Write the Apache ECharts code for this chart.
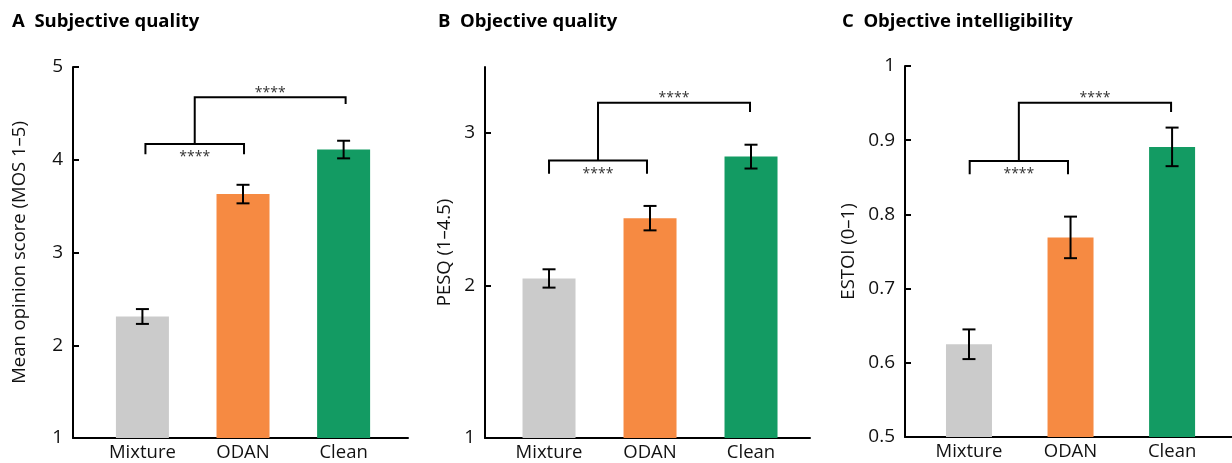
<!DOCTYPE html>
<html><head><meta charset="utf-8">
<script src="https://cdn.jsdelivr.net/npm/echarts@6/dist/echarts.min.js"></script>
<style>html,body{margin:0;padding:0;background:#fff}#c{width:1232px;height:463px}</style>
</head><body><div id="c"></div>
<script>
const categories = ['Mixture', 'ODAN', 'Clean'];
const barColors = ['#cbcbcb', '#f68a42', '#139b63'];
const panelTitles = ['A  Subjective quality', 'B  Objective quality', 'C  Objective intelligibility'];
const yNames = ['Mean opinion score (MOS 1–5)', 'PESQ (1–4.5)', 'ESTOI (0–1)'];
const mosMean = [2.31, 3.63, 4.11];
const mosErr = [0.08, 0.10, 0.095];
const pesqMean = [2.045, 2.44, 2.843];
const pesqErr = [0.06, 0.08, 0.078];
const estoiMean = [0.625, 0.769, 0.891];
const estoiErr = [0.02, 0.028, 0.026];
const mosTicks = [1, 2, 3, 4, 5];
const pesqTicks = [1, 2, 3];
const estoiTicks = [0.5, 0.6, 0.7, 0.8, 0.9, 1];
const yRanges = [[1, 5], [1, 3.43], [0.5, 1]];
// significance brackets: [leftX, rightX, lowerLineY, lowerLegY, upperLineY, upperLegY, upperRightX]
const mosBracket = [0.03, 1.01, 4.17, 4.06, 4.673, 4.60, 2.02];
const pesqBracket = [0.0, 0.97, 2.817, 2.73, 3.196, 3.135, 1.99];
const estoiBracket = [0.007, 0.975, 0.872, 0.854, 0.9505, 0.938, 1.99];
const sigLabel = '****';

const FONT = '"Open Sans", "Noto Sans", sans-serif';
const means = [mosMean, pesqMean, estoiMean];
const errs = [mosErr, pesqErr, estoiErr];
const ticks = [mosTicks, pesqTicks, estoiTicks];
const brackets = [mosBracket, pesqBracket, estoiBracket];

const grids = [
  {left: 73, top: 67, width: 335, height: 371},
  {left: 485, top: 67, width: 325, height: 371},
  {left: 905, top: 66, width: 327, height: 371}
];
const xRanges = [[-0.69, 2.64], [-0.634, 2.584], [-0.63, 2.59]];
const barWidths = [53, 53, 46];
const nameGaps = [44, 31, 47];
const titleLefts = [12, 438, 842];

function errRender(params, api) {
  const x = api.value(0), lo = api.value(1), hi = api.value(2);
  const p1 = api.coord([x, lo]), p2 = api.coord([x, hi]);
  const hw = 6.5;
  const style = {stroke: '#000', lineWidth: 2};
  return {type: 'group', children: [
    {type: 'line', shape: {x1: p1[0], y1: p1[1], x2: p2[0], y2: p2[1]}, style},
    {type: 'line', shape: {x1: p1[0] - hw, y1: p1[1], x2: p1[0] + hw, y2: p1[1]}, style},
    {type: 'line', shape: {x1: p2[0] - hw, y1: p2[1], x2: p2[0] + hw, y2: p2[1]}, style}
  ]};
}

function bracketRender(params, api) {
  const x0 = api.value(0), x1 = api.value(1), yl = api.value(2), yleg = api.value(3);
  const yu = api.value(4), yuleg = api.value(5), x2 = api.value(6);
  const xm = (x0 + x1) / 2;
  const a = api.coord([x0, yleg]), b = api.coord([x0, yl]), c = api.coord([x1, yl]), d = api.coord([x1, yleg]);
  const m = api.coord([xm, yl]), u = api.coord([xm, yu]), r = api.coord([x2, yu]), rl = api.coord([x2, yuleg]);
  const st = {stroke: '#000', lineWidth: 2, fill: null};
  const ts = {text: sigLabel, align: 'center', verticalAlign: 'middle', fontSize: 14, fontFamily: FONT, fill: '#333'};
  return {type: 'group', children: [
    {type: 'polyline', shape: {points: [a, b, c, d]}, style: st},
    {type: 'polyline', shape: {points: [m, u, r, rl]}, style: st},
    {type: 'text', x: m[0], y: m[1] + 13, style: Object.assign({}, ts)},
    {type: 'text', x: (u[0] + r[0]) / 2, y: u[1] - 4.5, style: Object.assign({}, ts)}
  ]};
}

const option = {
  backgroundColor: '#fff',
  animation: false,
  title: panelTitles.map((t, i) => ({
    text: t, left: titleLefts[i], top: 12, padding: 0,
    textStyle: {fontFamily: FONT, fontWeight: 'bold', fontSize: 18.5, color: '#000'}
  })),
  grid: grids.map(g => Object.assign({containLabel: false}, g)),
  xAxis: grids.map((g, i) => ({
    type: 'value', gridIndex: i, min: xRanges[i][0], max: xRanges[i][1],
    axisLine: {show: true, onZero: false, lineStyle: {color: '#000', width: 2}},
    axisTick: {show: false},
    splitLine: {show: false},
    axisLabel: {
      customValues: [0, 1, 2], margin: 5,
      formatter: v => categories[Math.round(v)] || '',
      fontFamily: FONT, fontSize: 18.5, color: '#111'
    }
  })),
  yAxis: grids.map((g, i) => ({
    type: 'value', gridIndex: i, min: yRanges[i][0], max: yRanges[i][1],
    startValue: yRanges[i][0],
    name: yNames[i], nameLocation: 'middle', nameGap: nameGaps[i],
    nameTextStyle: {fontFamily: FONT, fontSize: 18.5, color: '#111'},
    axisLine: {show: true, onZero: false, lineStyle: {color: '#000', width: 2}},
    axisTick: {show: true, inside: true, length: 6, customValues: ticks[i], lineStyle: {color: '#000', width: 2}},
    splitLine: {show: false},
    axisLabel: {customValues: ticks[i], margin: 10, fontFamily: FONT, fontSize: 19, color: '#111'}
  })),
  series: []
};

for (let i = 0; i < 3; i++) {
  option.series.push({
    type: 'bar', xAxisIndex: i, yAxisIndex: i, barWidth: barWidths[i],
    data: means[i].map((v, k) => ({value: [k, v], itemStyle: {color: barColors[k]}}))
  });
  option.series.push({
    type: 'custom', xAxisIndex: i, yAxisIndex: i, renderItem: errRender, clip: false,
    encode: {x: 0, y: [1, 2]},
    data: means[i].map((v, k) => [k, v - errs[i][k], v + errs[i][k]]),
    z: 5
  });
  option.series.push({
    type: 'custom', xAxisIndex: i, yAxisIndex: i, renderItem: bracketRender, clip: false,
    encode: {x: [0, 1, 6], y: [2, 3, 4, 5]},
    data: [brackets[i]],
    z: 5
  });
}

const chart = echarts.init(document.getElementById('c'), null, {renderer: 'canvas'});
chart.setOption(option);
</script>
</body></html>
